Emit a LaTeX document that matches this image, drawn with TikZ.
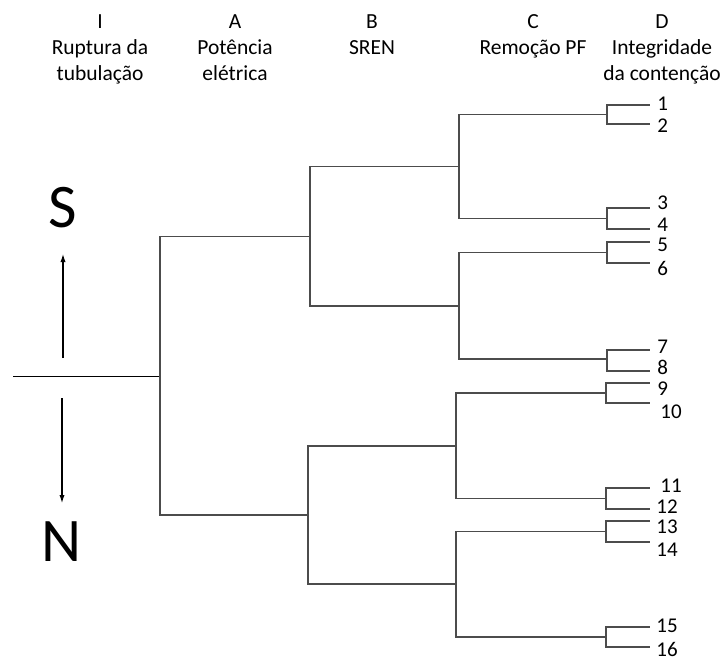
\documentclass[tikz,border=0pt]{standalone}
\usepackage{fontspec}
\setmainfont{Carlito}
\usetikzlibrary{arrows.meta}

\tikzset{
    branch/.style={draw=black!70, line width=0.9pt},
    head/.style={align=center, anchor=north, inner sep=0pt, font=\fontsize{10.75}{13}\selectfont},
    seqnum/.style={anchor=west, inner sep=0pt, font=\fontsize{10.5}{12}\selectfont},
    outcome/.style={inner sep=0pt, font=\fontsize{31}{36}\selectfont},
    pointer/.style={line width=0.55pt, -{Latex[length=4pt, width=2.6pt]}}
}

\begin{document}
\begin{tikzpicture}[x=0.5pt, y=-0.5pt]
        \useasboundingbox (0,0) rectangle (724,661);
        % column headings
        \node[head] (hi) at (100,14) {I\\Ruptura da\\tubulação};
        \node[head] (ha) at (235,14) {A\\Potência\\elétrica};
        \node[head] (hb) at (372,14) {B\\SREN};
        \node[head] (hc) at (533,14) {C\\Remoção PF};
        \node[head] (hd) at (662,14) {D\\Integridade\\da contenção};
        % S up, N down
        \node[outcome] (s) at (63,208) {S};
        \node[outcome] (n) at (62,542) {N};
        \coordinate (sfoot) at (63,358);
        \coordinate (stip) at (63,254);
        \coordinate (nfoot) at (62,398);
        \coordinate (ntip) at (62,503);
        \draw[pointer] (sfoot) -- (stip);
        \draw[pointer] (nfoot) -- (ntip);
        % branch points, one column per heading
        \coordinate (start) at (13,376.5);
        \coordinate (r) at (160,376.5);
        \coordinate (a1) at (310,236.5);
        \coordinate (a2) at (308,515);
        \coordinate (b1) at (459,166.5);
        \coordinate (b2) at (459,306);
        \coordinate (b3) at (456,446);
        \coordinate (b4) at (456,584);
        \coordinate (c1) at (607,114.5);
        \coordinate (c2) at (607,218.5);
        \coordinate (c3) at (607,252.5);
        \coordinate (c4) at (607,359);
        \coordinate (c5) at (606,393);
        \coordinate (c6) at (606,498.5);
        \coordinate (c7) at (606,531.5);
        \coordinate (c8) at (606,637);
        \draw[line width=0.75pt] (start) -- (r);
        \draw[branch]
        (r) |- (a1) (r) |- (a2)
        (a1) |- (b1) (a1) |- (b2)
        (a2) |- (b3) (a2) |- (b4)
        (b1) |- (c1) (b1) |- (c2)
        (b2) |- (c3) (b2) |- (c4)
        (b3) |- (c5) (b3) |- (c6)
        (b4) |- (c7) (b4) |- (c8);
        % end states 1..16
        \foreach \p/\i/\y/\tx/\ty in {c1/1/105/657/104, c1/2/124/657/126,
            c2/3/208/657/203, c2/4/229/657/225, c3/5/242/657/245, c3/6/263/657/268,
            c4/7/350/657/347, c4/8/371/657/367, c5/9/383/657/389, c5/10/403/660/412,
            c6/11/488/660/486, c6/12/509/656/507, c7/13/521/656/527, c7/14/542/656/550,
            c8/15/627/656/626, c8/16/647/656/649} {
            \coordinate (end\i) at (650,\y);
            \node[seqnum] (seq\i) at (\tx,\ty) {\i};
            \draw[branch] (\p) |- (end\i);
        }
    \end{tikzpicture}
\end{document}
